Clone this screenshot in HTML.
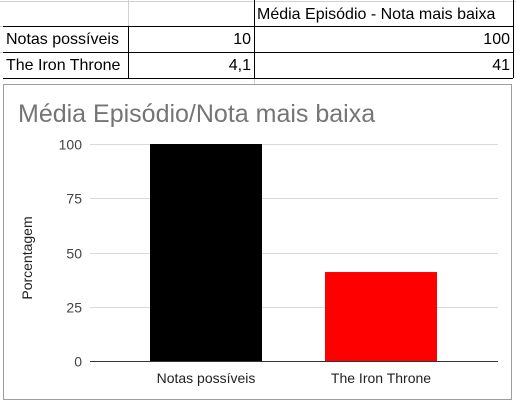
<!DOCTYPE html>
<html><head><meta charset="utf-8"><style>
body{margin:0;width:516px;height:401px;background:#fff;position:relative;overflow:hidden;font-family:"Liberation Sans",Arial,sans-serif}
.c{position:absolute;box-sizing:border-box;font-size:16px;line-height:25px;padding:0 3px;white-space:nowrap;color:#000}
.r{text-align:right}
</style></head><body>
<svg width="516" height="401" style="position:absolute;left:0;top:0">
<line x1="0" y1="1.5" x2="516" y2="1.5" stroke="#d0d0d0"/>
<line x1="128.5" y1="0" x2="128.5" y2="26" stroke="#d0d0d0"/>
<line x1="254.5" y1="78" x2="254.5" y2="86" stroke="#d0d0d0"/>
<line x1="0" y1="26.5" x2="3" y2="26.5" stroke="#d0d0d0"/>
<line x1="0" y1="52.5" x2="3" y2="52.5" stroke="#d0d0d0"/>
<line x1="3" y1="26.5" x2="513" y2="26.5" stroke="#000"/>
<line x1="254.5" y1="0" x2="254.5" y2="78" stroke="#000"/>
<line x1="3" y1="52.5" x2="513" y2="52.5" stroke="#000"/>
<line x1="3" y1="78.5" x2="513" y2="78.5" stroke="#000"/>
<line x1="128.5" y1="26" x2="128.5" y2="78" stroke="#000"/>
<line x1="513.5" y1="0" x2="513.5" y2="78" stroke="#000"/>
</svg>
<div class="c" style="left:254px;top:2px;width:259px">Média Episódio - Nota mais baixa</div>
<div class="c" style="left:3px;top:27px;width:125px">Notas possíveis</div>
<div class="c r" style="left:128px;top:27px;width:126px">10</div>
<div class="c r" style="left:254px;top:27px;width:259px">100</div>
<div class="c" style="left:3px;top:53px;width:125px">The Iron Throne</div>
<div class="c r" style="left:128px;top:53px;width:126px">4,1</div>
<div class="c r" style="left:254px;top:53px;width:259px">41</div>
<svg id="chart" width="510" height="317" style="position:absolute;left:3px;top:84px"></svg>
<script>
const categories=["Notas possíveis","The Iron Throne"];
const values=[100,41];
const colors=["#000000","#ff0000"];
const ticks=[0,25,50,75,100];
const NS="http://www.w3.org/2000/svg";
const svg=document.getElementById('chart');
const ox=3,oy=84;
function mk(t,a,p){const e=document.createElementNS(NS,t);for(const k in a)e.setAttribute(k,a[k]);(p||svg).appendChild(e);return e;}
const y0=361,y1=144;
const y=v=>y0-(v/100)*(y0-y1);
const bandL=118.5,bandW=175,barW=112;
const xc=i=>bandL+bandW*(i+0.5);
let frame=mk('rect',{x:0.5,y:0.5,width:508,height:315,fill:'#fff',stroke:'#9e9e9e'});


let title=mk('text',{x:15,y:38,'font-size':25,fill:'#757575','font-family':'Liberation Sans, Arial, sans-serif'});
title.textContent='Média Episódio/Nota mais baixa';


ticks.forEach(t=>{
 const yy=Math.round(y(t))+0.5-oy;
 if(t>0){const g=mk('line',{x1:90-ox,x2:498-ox,y1:yy,y2:yy,stroke:'#d9d9d9'});
 
 }
 const l=mk('text',{x:82-ox,y:yy+5,'text-anchor':'end','font-size':14,fill:'#444','font-family':'Liberation Sans, Arial, sans-serif'});
 l.textContent=t;
 
 
});
values.forEach((v,i)=>{
 const b=mk('rect',{x:xc(i)-barW/2-ox,y:y(v)-oy,width:barW,height:y0-y(v),fill:colors[i]});
 
 
 const l=mk('text',{x:xc(i)-ox,y:383-oy,'text-anchor':'middle','font-size':14,fill:'#222','font-family':'Liberation Sans, Arial, sans-serif'});
 l.textContent=categories[i];
 
 
});
const ax=mk('line',{x1:90-ox,x2:498-ox,y1:y0+0.5-oy,y2:y0+0.5-oy,stroke:'#333'});


const yt=mk('text',{x:0,y:0,'text-anchor':'middle','font-size':14,fill:'#222','font-family':'Liberation Sans, Arial, sans-serif',transform:'translate('+(32-ox)+','+(258-oy)+') rotate(-90)'});
yt.textContent='Porcentagem';


</script>
</body></html>
